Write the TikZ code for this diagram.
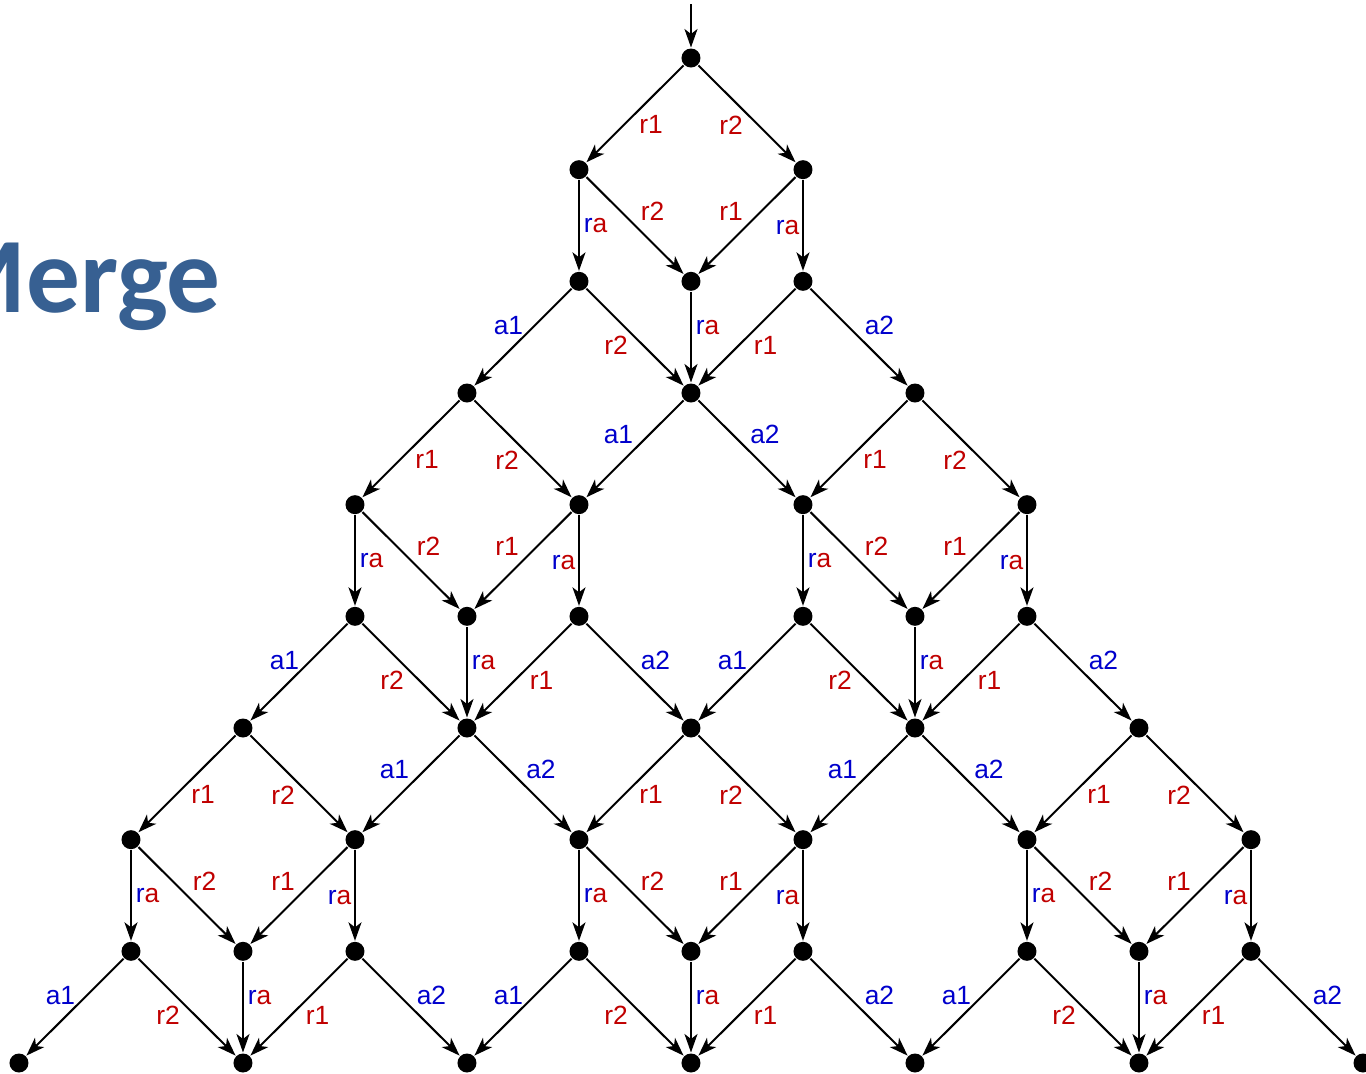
\documentclass[tikz,border=0pt]{standalone}
\usepackage{fontspec}
\setmainfont{Liberation Sans}
\newfontfamily\titlefont{Carlito}
\usepackage{xcolor}
\usepackage{tikz}
\usetikzlibrary{arrows.meta}
\definecolor{mergeblue}{RGB}{55,96,146}
\definecolor{labelred}{RGB}{192,0,0}
\definecolor{labelblue}{RGB}{0,0,204}
\newcommand{\lra}{\textcolor{labelblue}{r}\textcolor{labelred}{a}}
\tikzset{every picture/.style={line width=.04cm}}

\begin{document}
\begin{tikzpicture}[x=2.24cm,y=2.2333cm,
 dot/.style={circle,fill=black,inner sep=0pt,minimum size=.38cm},
 edge/.style={-{Stealth[length=.37cm,width=.26cm,inset=.1cm]},line width=.04cm},
 lab/.style={midway,inner sep=0pt,font=\fontsize{15}{18}\selectfont},
 rlab/.style={lab,text=labelred},
 alab/.style={lab,text=labelblue},
 topl/.style={shift={(.32cm,-.22cm)}},
 topr/.style={shift={(-.32cm,-.22cm)}},
 sidel/.style={shift={(.33cm,0cm)}},
 sider/.style={shift={(-.31cm,-.04cm)}},
 inl/.style={shift={(.35cm,.28cm)}},
 inr/.style={shift={(-.32cm,.28cm)}},
 ctr/.style={shift={(.33cm,.2cm)}},
 outl/.style={shift={(-.29cm,.24cm)}},
 lowl/.style={shift={(-.38cm,-.17cm)}},
 lowr/.style={shift={(.37cm,-.17cm)}},
 outr/.style={shift={(.41cm,.23cm)}},
 joinl/.style={shift={(-.33cm,.28cm)}},
 joinr/.style={shift={(.36cm,.28cm)}}]
 \useasboundingbox (-13.82cm,1.16cm) rectangle (13.5cm,-20.3cm);
 \clip (-13.82cm,1.16cm) rectangle (13.5cm,-20.3cm);

 \node[font=\titlefont\bfseries\fontsize{61}{72}\selectfont,text=mergeblue,
  inner sep=0pt,anchor=base east] (title) at (-9.38cm,-5.08cm) {Merge};

 % states, row by row (column 6 is the middle)
 \foreach \row/\cols in {0/{6},1/{5,7},2/{5,6,7},3/{4,6,8},4/{3,5,7,9},
  5/{3,4,5,7,8,9},6/{2,4,6,8,10},7/{1,3,5,7,9,11},
  8/{1,2,3,5,6,7,9,10,11},9/{0,2,4,6,8,10,12}}
  \foreach \col in \cols
   \node[dot] (n\row-\col) at (\col-6,-\row) {};

 \coordinate (entry) at (0,.48);
 \draw[edge] (entry) -- (n0-6);

 % one merge block: two releases, then the acquires
 \foreach \col/\row in {6/0,4/3,8/3,2/6,6/6,10/6}{
  \pgfmathtruncatemacro\rA{\row+1}
  \pgfmathtruncatemacro\rB{\row+2}
  \pgfmathtruncatemacro\rC{\row+3}
  \pgfmathtruncatemacro\kL{\col-1}
  \pgfmathtruncatemacro\kR{\col+1}
  \pgfmathtruncatemacro\kLL{\col-2}
  \pgfmathtruncatemacro\kRR{\col+2}
  \draw[edge] (n\row-\col) -- node[rlab,topl] {r1} (n\rA-\kL);
  \draw[edge] (n\row-\col) -- node[rlab,topr] {r2} (n\rA-\kR);
  \draw[edge] (n\rA-\kL) -- node[lab,sidel] {\lra} (n\rB-\kL);
  \draw[edge] (n\rA-\kL) -- node[rlab,inl] {r2} (n\rB-\col);
  \draw[edge] (n\rA-\kR) -- node[rlab,inr] {r1} (n\rB-\col);
  \draw[edge] (n\rA-\kR) -- node[lab,sider] {\lra} (n\rB-\kR);
  \draw[edge] (n\rB-\col) -- node[lab,ctr] {\lra} (n\rC-\col);
  \draw[edge] (n\rB-\kL) -- node[alab,outl] {a1} (n\rC-\kLL);
  \draw[edge] (n\rB-\kL) -- node[rlab,lowl] {r2} (n\rC-\col);
  \draw[edge] (n\rB-\kR) -- node[rlab,lowr] {r1} (n\rC-\col);
  \draw[edge] (n\rB-\kR) -- node[alab,outr] {a2} (n\rC-\kRR);
 }

 % the joined states split again
 \foreach \col/\row in {6/3,4/6,8/6}{
  \pgfmathtruncatemacro\rA{\row+1}
  \pgfmathtruncatemacro\kL{\col-1}
  \pgfmathtruncatemacro\kR{\col+1}
  \draw[edge] (n\row-\col) -- node[alab,joinl] {a1} (n\rA-\kL);
  \draw[edge] (n\row-\col) -- node[alab,joinr] {a2} (n\rA-\kR);
 }
\end{tikzpicture}
\end{document}
